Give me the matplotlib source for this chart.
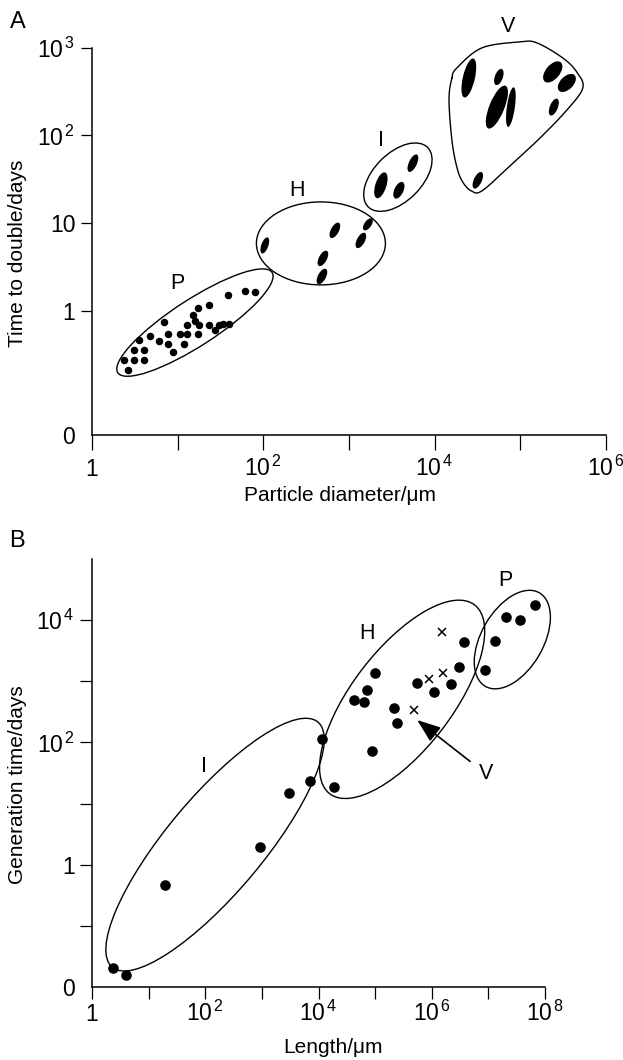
import numpy as np
import matplotlib
matplotlib.use('Agg')
import matplotlib.pyplot as plt
from matplotlib.patches import Ellipse
from matplotlib.transforms import ScaledTranslation
from matplotlib.ticker import NullLocator

plt.rcParams['font.family'] = ['Liberation Sans', 'DejaVu Sans']
plt.rcParams['mathtext.fontset'] = 'custom'
plt.rcParams['mathtext.rm'] = 'Liberation Sans'
plt.rcParams['mathtext.it'] = 'Liberation Sans:italic'
plt.rcParams['mathtext.default'] = 'regular'

# ---- panel A : particle diameter (um) vs time to double (days) ----
a_floor = 0.038   # where the axis is labelled "0"

p_size = [2.36, 2.63, 3.09, 3.09, 3.54, 4.04, 4.04, 4.75, 6.05, 6.92, 7.71,
          7.71, 8.81, 10.6, 11.8, 12.8, 12.8, 15.1, 15.9, 17.3, 17.3, 17.7,
          23.2, 23.2, 27.2, 30.3, 33.8, 38.6, 39.7, 61.0, 79.8]
p_double = [0.275, 0.211, 0.357, 0.275, 0.466, 0.357, 0.275, 0.517, 0.453,
            0.748, 0.545, 0.419, 0.339, 0.545, 0.419, 0.692, 0.545, 0.900,
            0.768, 1.08, 0.545, 0.692, 1.17, 0.692, 0.606, 0.692, 0.710,
            1.52, 0.710, 1.69, 1.65]

# ranges drawn as filled ovals (H, I, V groups)
blob_x = [104, 684, 496, 483, 1376, 1662, 2356, 3822, 5571,
          25060, 56100, 53200, 77500, 239000, 349000, 246000, 31900]
blob_y = [5.54, 8.23, 3.94, 2.45, 6.32, 9.64, 26.9, 23.6, 48.1,
          451, 463, 210, 210, 529, 396, 210, 30.7]
blob_len = [17, 17, 17, 17, 17, 14, 27, 18, 19, 40, 17, 46, 40, 25, 22, 18, 18]
blob_wid = [7, 8, 8, 8, 8, 7, 11, 9, 8, 12, 8, 15, 8, 14, 13, 8, 8]
blob_ang = [70, 62, 62, 62, 62, 55, 72, 65, 65, 77, 70, 68, 82, 50, 45, 68, 65]

# outline round the V group
v_edge_x = [15890, 18160, 35560, 98600, 156000, 313000, 456000, 536000,
            349000, 169000, 81800, 36500, 27200, 21300, 18160, 15890, 14700]
v_edge_y = [451, 587, 995, 1164, 1135, 764, 528, 347, 194, 92.9, 48.1,
            23.6, 23.0, 29.2, 43.3, 88.1, 253]

a_groups = ['P', 'H', 'I']
a_grp_x = [15.9, 470, 3720]
a_grp_y = [0.729, 5.84, 33.3]
a_grp_len = [184, 129, 84]
a_grp_wid = [46, 83, 48]
a_grp_ang = [33, 0, 45]

a_lab = ['P', 'H', 'I', 'V']
a_lab_x = [9.8, 247, 2356, 71400]
a_lab_y = [2.04, 23.6, 88, 1730]

a_xticks = [1, 10, 1e2, 1e3, 1e4, 1e5, 1e6]
a_xticklabels = ['1', '', r'$10^{\,2}$', '', r'$10^{\,4}$', '', r'$10^{\,6}$']
a_yticks = [a_floor, 1, 10, 1e2, 1e3]
a_yticklabels = ['0', '1', '10', r'$10^{\,2}$', r'$10^{\,3}$']

# ---- panel B : length (um) vs generation time (days) ----
b_floor = 0.01

b_i_len = [2.33, 3.96, 19.8, 917, 2990, 7160, 11500]
b_i_gen = [0.0201, 0.0157, 0.471, 1.96, 14.7, 23.1, 115]
b_h_len = [18900, 89100, 43000, 64000, 72900, 97700, 216000, 240000,
           547000, 1.08e6, 2.23e6, 2.99e6, 3.74e6]
b_h_gen = [19.0, 72.3, 500, 451, 728, 1370, 361, 207, 944, 673, 908, 1690, 4420]
b_v_len = [1.54e6, 8.81e5, 1.58e6, 4.85e5]
b_v_gen = [6350, 1070, 1390, 343]
b_p_len = [8.61e6, 1.32e7, 2.04e7, 3.56e7, 6.71e7]
b_p_gen = [1520, 4590, 11400, 10000, 17900]

b_grp_x = [149, 3.0e5, 2.65e7]
b_grp_y = [2.13, 507, 4810]
b_grp_len = [320, 238, 108]
b_grp_wid = [96, 100, 62]
b_grp_ang = [50, 52.5, 60]

b_lab = ['I', 'H', 'P', 'V']
b_lab_x = [95, 72900, 1.96e7, 8.97e6]
b_lab_y = [41, 5960, 44500, 31]
arrow_from = (4.74e6, 49)
arrow_to = (5.54e5, 232)

b_xticks = [1, 10, 1e2, 1e3, 1e4, 1e5, 1e6, 1e7, 1e8]
b_xticklabels = ['1', '', r'$10^{\,2}$', '', r'$10^{\,4}$', '', r'$10^{\,6}$', '',
                 r'$10^{\,8}$']
b_yticks = [b_floor, 0.1, 1, 10, 1e2, 1e3, 1e4]
b_yticklabels = ['0', '', '1', '', r'$10^{\,2}$', '', r'$10^{\,4}$']


W, H = 623, 1060
fig = plt.figure(figsize=(W / 100, H / 100), dpi=100)
axA = fig.add_axes([92 / W, 1 - 435 / H, 514 / W, 387.3 / H])
axB = fig.add_axes([92 / W, 1 - 987 / H, 453 / W, 428 / H])


def oval(ax, x, y, length, width, angle, filled):
    # centre in data units, size in pixels
    tr = fig.dpi_scale_trans + ScaledTranslation(x, y, ax.transData)
    e = Ellipse((0, 0), length / 100, width / 100, angle=angle, transform=tr,
                facecolor='black' if filled else 'none', edgecolor='black',
                lw=0 if filled else 1.0, clip_on=False)
    ax.add_patch(e)


def smooth_closed(px, py, n=20):
    pts = np.column_stack([px, py])
    m = len(pts)
    t = np.linspace(0, 1, n, endpoint=False)[:, None]
    out = []
    for i in range(m):
        p0, p1, p2, p3 = pts[i - 1], pts[i], pts[(i + 1) % m], pts[(i + 2) % m]
        out.append(0.5 * (2 * p1 + (p2 - p0) * t
                          + (2 * p0 - 5 * p1 + 4 * p2 - p3) * t ** 2
                          + (3 * p1 - p0 - 3 * p2 + p3) * t ** 3))
    out = np.vstack(out)
    return np.vstack([out, out[:1]])


def style(ax, xticks, xlabels, yticks, ylabels, xlen, ylen, xpad):
    ax.set_xscale('log')
    ax.set_yscale('log')
    for s in ['top', 'right']:
        ax.spines[s].set_visible(False)
    for s in ['left', 'bottom']:
        ax.spines[s].set_linewidth(1.1)
    ax.set_xticks(xticks, xlabels)
    ax.set_yticks(yticks, ylabels)
    ax.xaxis.set_minor_locator(NullLocator())
    ax.yaxis.set_minor_locator(NullLocator())
    ax.tick_params(axis='x', length=xlen, width=0.9, pad=xpad, labelsize=16.5)
    ax.tick_params(axis='y', length=ylen, width=0.9, pad=4, labelsize=16.5)
    for lab in ax.get_xticklabels():
        lab.set_va('baseline')
    ax.yaxis.get_major_ticks()[0].tick1line.set_visible(False)


# panel A
style(axA, a_xticks, a_xticklabels, a_yticks, a_yticklabels, 10.8, 8, 19)
axA.set_xlim(1, 1e6)
axA.set_ylim(a_floor, 1e3)
axA.plot(p_size, p_double, 'o', color='black', ms=4.4, clip_on=False)
for i in range(len(blob_x)):
    oval(axA, blob_x[i], blob_y[i], blob_len[i], blob_wid[i], blob_ang[i], True)
for i in range(len(a_groups)):
    oval(axA, a_grp_x[i], a_grp_y[i], a_grp_len[i], a_grp_wid[i], a_grp_ang[i], False)
edge = smooth_closed(np.log10(v_edge_x), np.log10(v_edge_y))
axA.plot(10 ** edge[:, 0], 10 ** edge[:, 1], color='black', lw=1.0, clip_on=False)
for s, x, y in zip(a_lab, a_lab_x, a_lab_y):
    axA.text(x, y, s, ha='center', va='center', fontsize=15.5)
axA.set_xlabel('Particle diameter/μm', fontsize=15)
axA.xaxis.set_label_coords((340.5 - 92) / 514, (435 - 486) / 387.3)
axA.set_ylabel('Time to double/days', fontsize=15)
axA.yaxis.set_label_coords((27 - 92) / 514, (435 - 253.5) / 387.3)

# panel B
style(axB, b_xticks, b_xticklabels, b_yticks, b_yticklabels, 8.6, 8.6, 15.8)
axB.set_xlim(1, 1e8)
axB.set_ylim(b_floor, 1e5)
for xs, ys in [(b_i_len, b_i_gen), (b_h_len, b_h_gen), (b_p_len, b_p_gen)]:
    axB.plot(xs, ys, 'o', color='black', ms=6.6, clip_on=False)
axB.plot(b_v_len, b_v_gen, 'x', color='black', ms=6.3, mew=1.1)
for i in range(len(b_grp_x)):
    oval(axB, b_grp_x[i], b_grp_y[i], b_grp_len[i], b_grp_wid[i], b_grp_ang[i], False)
for s, x, y in zip(b_lab, b_lab_x, b_lab_y):
    axB.text(x, y, s, ha='center', va='center', fontsize=15.5)
axB.annotate('', xy=arrow_to, xytext=arrow_from,
             arrowprops=dict(arrowstyle='-|>,head_length=0.8,head_width=0.3',
                             color='black', lw=1.2, mutation_scale=18,
                             shrinkA=0, shrinkB=0))
axB.set_xlabel('Length/μm', fontsize=15)
axB.xaxis.set_label_coords((333 - 92) / 453, (987 - 1038) / 428)
axB.set_ylabel('Generation time/days', fontsize=15)
axB.yaxis.set_label_coords((27 - 92) / 453, (987 - 785) / 428)

fig.text(10 / W, 1 - 28 / H, 'A', fontsize=17, va='baseline')
fig.text(9 / W, 1 - 547 / H, 'B', fontsize=17, va='baseline')

fig.savefig('out.png', dpi=100)
